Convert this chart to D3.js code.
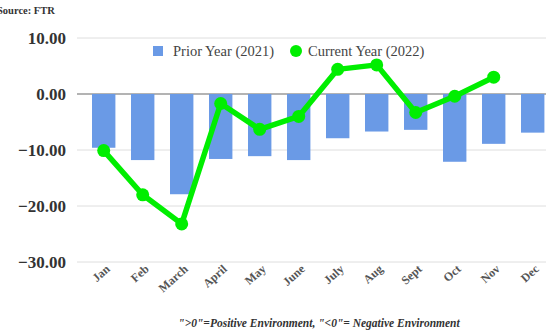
<!DOCTYPE html>
<html>
<head>
<meta charset="utf-8">
<script src="https://cdn.jsdelivr.net/npm/d3@7"></script>
<style>
  body { margin: 0; background: #fff; }
  svg { display: block; }
</style>
</head>
<body>
<div id="chart"></div>
<script>
// months + the two series
const months = ["Jan", "Feb", "March", "April", "May", "June", "July", "Aug", "Sept", "Oct", "Nov", "Dec"];
const prior2021 = [-9.6, -11.8, -17.9, -11.6, -11.1, -11.8, -7.9, -6.7, -6.4, -12.1, -8.9, -6.9];
const current2022 = [-10.1, -18.0, -23.2, -1.7, -6.3, -4.0, 4.4, 5.2, -3.3, -0.4, 3.0, null];
const yTicks = [10, 0, -10, -20, -30];

const width = 546, height = 335,
      margin = ({top: 38, right: 0, bottom: 73, left: 77});

const svg = d3.select("#chart").append("svg")
    .attr("width", width).attr("height", height);

// plot runs a little past the right edge (picture is cropped there)
const x = d3.scaleBand()
    .domain(months)
    .range([76.4, 560])
    .padding(0.4);

const y = d3.scaleLinear()
    .domain([-30, 10])
    .range([height - margin.bottom, margin.top]);

// grid lines
svg.append("g")
  .selectAll("line")
  .data(yTicks)
  .join("line")
    .attr("x1", margin.left).attr("x2", width)
    .attr("y1", d => y(d)).attr("y2", d => y(d))
    .attr("stroke", d => d === 0 ? "#9a9a9a" : "#dedede")
    .attr("stroke-width", d => d === 0 ? 1.5 : 1);

// y labels
svg.append("g")
  .selectAll("text")
  .data(yTicks)
  .join("text")
    .attr("x", 66).attr("y", d => y(d) + 6)
    .attr("text-anchor", "end")
    .attr("font-family", "Liberation Serif, serif")
    .attr("font-weight", "bold")
    .attr("font-size", 17)
    .attr("fill", "#333")
    .text(d => d3.format(".2f")(d));

// bars (2021)
svg.append("g")
  .selectAll("rect")
  .data(prior2021)
  .join("rect")
    .attr("fill", "#6a9ae6")
    .attr("x", (d, i) => x(months[i]))
    .attr("width", x.bandwidth())
    .attr("y", y(0))
    .attr("height", d => y(d) - y(0));

// line (2022)
const pts = current2022.map((v, i) => ({m: months[i], v})).filter(d => d.v !== null);
const cx = d => x(d.m) + x.bandwidth() / 2;

svg.append("path")
    .datum(pts)
    .attr("fill", "none")
    .attr("stroke", "#00ee00")
    .attr("stroke-width", 5.5)
    .attr("stroke-linejoin", "round")
    .attr("d", d3.line().x(cx).y(d => y(d.v)));

svg.append("g")
  .selectAll("circle")
  .data(pts)
  .join("circle")
    .attr("cx", cx).attr("cy", d => y(d.v))
    .attr("r", 6.5)
    .attr("fill", "#00ee00");

// month labels, rotated
svg.append("g")
  .selectAll("text")
  .data(months)
  .join("text")
    .attr("transform", d => `translate(${x(d) + x.bandwidth() / 2 + 7},${y(-30) + 8}) rotate(-42)`)
    .attr("text-anchor", "end")
    .attr("font-family", "Liberation Serif, serif")
    .attr("font-weight", "bold")
    .attr("font-size", 12)
    .attr("fill", "#555")
    .text(d => d);

// legend
const legend = svg.append("g").attr("font-family", "Liberation Serif, serif")
    .attr("font-size", 14.5).attr("fill", "#444");
legend.append("rect").attr("x", 153).attr("y", 46).attr("width", 10).attr("height", 10).attr("fill", "#6a9ae6");
legend.append("text").attr("x", 173).attr("y", 56).text("Prior Year (2021)");
legend.append("circle").attr("cx", 296).attr("cy", 51).attr("r", 6).attr("fill", "#00ee00");
legend.append("text").attr("x", 308).attr("y", 56).text("Current Year (2022)");

// source + footnote
svg.append("text")
    .attr("x", -3).attr("y", 14)
    .attr("font-family", "Liberation Serif, serif")
    .attr("font-weight", "bold").attr("font-size", 10.5)
    .attr("fill", "#333")
    .text("Source: FTR");

svg.append("text")
    .attr("x", 319).attr("y", 327)
    .attr("text-anchor", "middle")
    .attr("font-family", "Liberation Serif, serif")
    .attr("font-weight", "bold").attr("font-style", "italic")
    .attr("font-size", 11.5)
    .attr("fill", "#333")
    .text("\">0\"=Positive Environment, \"<0\"= Negative Environment");
</script>
</body>
</html>
